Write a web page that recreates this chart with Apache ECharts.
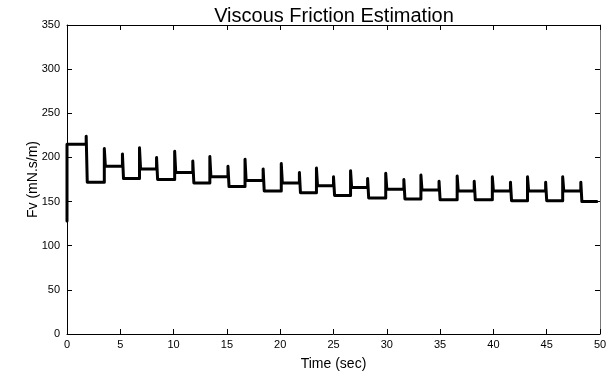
<!DOCTYPE html>
<html>
<head>
<meta charset="utf-8">
<script src="https://cdn.jsdelivr.net/npm/echarts@6/dist/echarts.min.js"></script>
<style>html,body{margin:0;padding:0;background:#fff;}#c{width:611px;height:376px;}</style>
</head>
<body>
<div id="c"></div>
<script>
// Data
var startValue = 128;
var initialLevel = 215;
var eventTimes = [1.8, 3.5, 5.2, 6.8, 8.4, 10.1, 11.8, 13.4, 15.1, 16.7, 18.4, 20.1, 21.8, 23.4, 25.0, 26.6, 28.2, 29.9, 31.6, 33.2, 34.9, 36.6, 38.2, 39.9, 41.6, 43.2, 44.9, 46.5, 48.2];
var peaks = [224, 210, 204, 211, 200, 207, 196, 201, 190, 198, 187, 193, 183, 188, 178, 185, 176, 182, 175, 180, 173, 179, 173, 178, 172, 178, 172, 178, 172];
var levels = [172, 190, 176, 187, 175, 183, 171, 178, 167, 174, 162, 171, 160, 168, 157, 166, 154, 164, 153, 163, 152, 162, 152, 162, 151, 162, 151, 162, 150];
var endTime = 49.7;
var xTicks = [0, 5, 10, 15, 20, 25, 30, 35, 40, 45, 50];
var yTicks = [0, 50, 100, 150, 200, 250, 300, 350];

var pts = [[0, startValue], [0, initialLevel]];
var prev = initialLevel;
for (var i = 0; i < eventTimes.length; i++) {
  pts.push([eventTimes[i], prev]);
  pts.push([eventTimes[i], peaks[i]]);
  pts.push([eventTimes[i] + 0.1, levels[i]]);
  prev = levels[i];
}
pts.push([endTime, prev]);

var font = 'Liberation Sans, Arial, sans-serif';
var chart = echarts.init(document.getElementById('c'), null, {renderer: 'canvas'});
var axisCommonX = {
  type: 'value', min: 0, max: 50, interval: 5,
  splitLine: {show: false},
  axisTick: {show: true, inside: true, length: 5, lineStyle: {color: '#000', width: 1}},
};
var axisCommonY = {
  type: 'value', min: 0, max: 350, interval: 50,
  splitLine: {show: false},
  axisTick: {show: true, inside: true, length: 5, lineStyle: {color: '#000', width: 1}},
};
chart.setOption({
  animation: false,
  title: {
    text: 'Viscous Friction Estimation', left: 334, top: 6, padding: 0, textAlign: 'center',
    textStyle: {fontFamily: font, fontSize: 20, fontWeight: 'normal', color: '#000'}
  },
  grid: {left: 67, right: 11, top: 25, bottom: 40, containLabel: false},
  xAxis: [
    Object.assign({}, axisCommonX, {
      position: 'bottom',
      name: 'Time (sec)', nameLocation: 'middle', nameGap: 23, nameMoveOverlap: false,
      nameTextStyle: {fontFamily: font, fontSize: 14, color: '#000'},
      axisLine: {show: true, onZero: false, lineStyle: {color: '#000', width: 1}},
      axisLabel: {fontFamily: font, fontSize: 11, color: '#000', margin: 5,
        customValues: xTicks}
    }),
    Object.assign({}, axisCommonX, {
      position: 'top',
      axisLine: {show: true, onZero: false, lineStyle: {color: '#000', width: 1}},
      axisLabel: {show: false}
    })
  ],
  yAxis: [
    Object.assign({}, axisCommonY, {
      position: 'left',
      name: 'Fv (mN.s/m)', nameLocation: 'middle', nameGap: 27, nameMoveOverlap: false,
      nameTextStyle: {fontFamily: font, fontSize: 14, color: '#000'},
      axisLine: {show: true, onZero: false, lineStyle: {color: '#000', width: 1}},
      axisLabel: {fontFamily: font, fontSize: 11, color: '#000', margin: 7,
        customValues: yTicks}
    }),
    Object.assign({}, axisCommonY, {
      position: 'right',
      axisLine: {show: true, onZero: false, lineStyle: {color: '#777', width: 1}},
      axisLabel: {show: false}
    })
  ],
  series: [{
    type: 'line', data: pts, xAxisIndex: 0, yAxisIndex: 0,
    showSymbol: false, symbol: 'none',
    lineStyle: {color: '#000', width: 3, join: 'round', cap: 'round'}
  }]
});
</script>
</body>
</html>
